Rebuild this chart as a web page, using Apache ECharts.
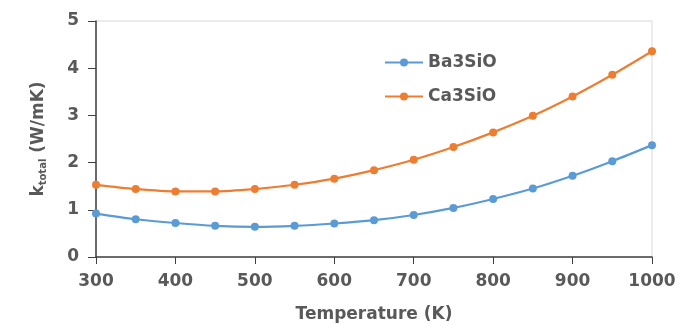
<!DOCTYPE html>
<html>
<head>
<meta charset="utf-8">
<script src="https://cdn.jsdelivr.net/npm/echarts@6/dist/echarts.min.js"></script>
<style>
  html, body { margin: 0; padding: 0; background: #fff; }
  #main { width: 680px; height: 325px; }
</style>
</head>
<body>
<div id="main"></div>
<script>
var temps = [300, 350, 400, 450, 500, 550, 600, 650, 700, 750, 800, 850, 900, 950, 1000];
var ba3sio = [0.92, 0.80, 0.72, 0.66, 0.64, 0.66, 0.71, 0.78, 0.89, 1.04, 1.23, 1.45, 1.72, 2.03, 2.37];
var ca3sio = [1.53, 1.44, 1.39, 1.39, 1.44, 1.53, 1.66, 1.84, 2.06, 2.33, 2.64, 2.99, 3.40, 3.86, 4.36];

var pairs = function (xs, ys) {
  var arr = [];
  for (var i = 0; i < xs.length; i++) {
    arr.push([xs[i], ys[i]]);
  }
  return arr;
};

var textColor = '#595959';
var font = 'DejaVu Sans';

var myChart = echarts.init(document.getElementById('main'));
var option = {
  animation: false,
  textStyle: { fontFamily: font },
  grid: {
    left: 96, right: 28, top: 21, bottom: 68,
    containLabel: false,
    outerBoundsMode: 'none',
    show: true,
    borderColor: '#d9d9d9',
    borderWidth: 1
  },
  legend: {
    orient: 'vertical',
    left: 379,
    top: 49,
    itemWidth: 38,
    itemHeight: 10,
    itemGap: 17,
    textStyle: { fontFamily: font, fontSize: 17, fontWeight: 'bold', color: textColor },
    data: ['Ba3SiO', 'Ca3SiO']
  },
  xAxis: {
    type: 'value',
    min: 300, max: 1000, interval: 100,
    name: 'Temperature (K)',
    nameLocation: 'middle',
    nameGap: 49,
    nameTextStyle: { fontFamily: font, fontSize: 17, fontWeight: 'bold', color: textColor },
    axisLine: { lineStyle: { color: '#404040', width: 1.5 } },
    axisTick: { show: true, length: 7, lineStyle: { color: '#404040' } },
    axisLabel: {
      fontFamily: font, fontSize: 17, fontWeight: 'bold', color: textColor, margin: 16,
      formatter: function (v) { return String(v); }
    },
    splitLine: { show: false }
  },
  yAxis: {
    type: 'value',
    min: 0, max: 5, interval: 1,
    name: '{k|k}{s|total}{k| (W/mK)}',
    nameLocation: 'middle',
    nameGap: 48,
    nameTextStyle: {
      rich: {
        k: { fontFamily: font, fontSize: 17, fontWeight: 'bold', color: textColor },
        s: { fontFamily: font, fontSize: 10, fontWeight: 'bold', color: textColor, verticalAlign: 'bottom', padding: [9, 0, 0, 0] }
      }
    },
    axisLine: { show: true, lineStyle: { color: '#404040', width: 1.5 } },
    axisTick: { show: true, length: 8, lineStyle: { color: '#404040' } },
    axisLabel: { fontFamily: font, fontSize: 17, fontWeight: 'bold', color: textColor, margin: 17 },
    splitLine: { show: false }
  },
  series: [
    {
      name: 'Ba3SiO',
      type: 'line',
      smooth: 0.3,
      data: pairs(temps, ba3sio),
      symbol: 'circle',
      symbolSize: 8,
      lineStyle: { color: '#5b9bd5', width: 2.2 },
      itemStyle: { color: '#5b9bd5' }
    },
    {
      name: 'Ca3SiO',
      type: 'line',
      smooth: 0.3,
      data: pairs(temps, ca3sio),
      symbol: 'circle',
      symbolSize: 8,
      lineStyle: { color: '#ed7d31', width: 2.2 },
      itemStyle: { color: '#ed7d31' }
    }
  ]
};
myChart.setOption(option);
</script>
</body>
</html>
